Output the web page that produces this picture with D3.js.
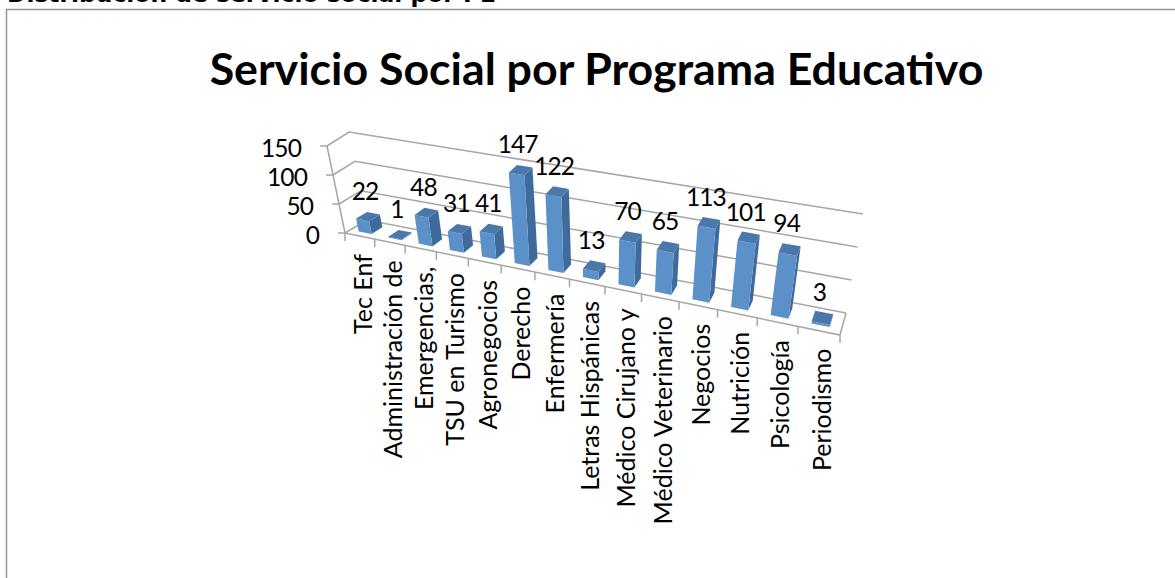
<!DOCTYPE html>
<html><head><meta charset="utf-8">
<script src="https://cdn.jsdelivr.net/npm/d3@7"></script>
<style>html,body{margin:0;padding:0;background:#fff;overflow:hidden}svg{display:block}
text{font-family:Lato,sans-serif;fill:#000}</style></head>
<body><div id="chart"></div>
<script>
const header = "Distribución de servicio social por PE";
const chartTitle = "Servicio Social por Programa Educativo";
const categories = ["Tec Enf","Administración de","Emergencias,","TSU en Turismo","Agronegocios","Derecho","Enfermería","Letras Hispánicas","Médico Cirujano y","Médico Veterinario","Negocios","Nutrición","Psicología","Periodismo"];
const values = [22,1,48,31,41,147,122,13,70,65,113,101,94,3];
const yTicks = [0,50,100,150];

const W = 1175, H = 578;
const svg = d3.select("#chart").append("svg").attr("width",W).attr("height",H);

// frame of the 3D box: [x,y] of its eight corners
const box = {
  floor:{fl:[345,233],fr:[840,335],bl:[367,220],br:[846,313]},
  top:{fl:[327,146],fr:[858,232],bl:[349,132],br:[863,214]}
};
const warpA = 0.83;
const warp = u => warpA*u/(1+(warpA-1)*u);
const lerp = (p,q,t)=>[p[0]+(q[0]-p[0])*t,p[1]+(q[1]-p[1])*t];
function proj(u,d,h){
  const w = warp(u);
  const plane = c => lerp(lerp(c.fl,c.fr,w),lerp(c.bl,c.br,w),d);
  return lerp(plane(box.floor),plane(box.top),h);
}
const xBand = d3.scaleBand().domain(categories).range([0,1]).paddingInner(0.56).paddingOuter(0.28);
const xEdge = d3.scaleLinear().domain([0,categories.length]).range([0,1]);
const yS = d3.scaleLinear().domain([0,150]).range([0,1]);
const depth = {front:0.25,back:0.75};
const poly = d3.line();
const gridCol = "#a6a6a6";

// page frame
svg.append("path").attr("d","M6.5,578V9.5H1175").attr("fill","none").attr("stroke","#969696").attr("stroke-width",1.5);
svg.append("text").attr("x",7).attr("y",2).attr("font-size",23.4).attr("font-weight",700)
  .style("font-family","'DejaVu Sans',sans-serif").text(header);
svg.append("text").attr("x",596.5).attr("y",85).attr("text-anchor","middle").attr("font-size",44.7).attr("font-weight",700).text(chartTitle);

// grid
const g = svg.append("g").attr("fill","none").attr("stroke",gridCol).attr("stroke-width",1.5);
yTicks.forEach(t=>{
  const h=yS(t);
  g.append("path").attr("d",poly([proj(0,0,h),proj(0,1,h),proj(1,1,h)]));
  const a=proj(0,0,h);
  g.append("path").attr("d",poly([[a[0]-7,a[1]],a]));
});
g.append("path").attr("d",poly([proj(0,0,0),proj(0,0,1)]));
g.append("path").attr("d",poly([proj(0,0,0),proj(1,0,0),proj(1,1,0)]));
d3.range(categories.length+1).forEach(i=>{
  const a=proj(xEdge(i),0,0);
  g.append("path").attr("d",poly([a,[a[0],a[1]+8]]));
});

// y labels
svg.append("g").selectAll("text").data(yTicks).join("text")
  .attr("text-anchor","end").attr("font-size",24.5).attr("letter-spacing",-0.9)
  .attr("x",d=>proj(0,0,yS(d))[0]-26).attr("y",d=>proj(0,0,yS(d))[1]+11).text(d=>d);

// bars
const bars = svg.append("g").selectAll("g").data(categories).join("g");
bars.each(function(c,i){
  const u0=xBand(c),u1=u0+xBand.bandwidth(),h=yS(values[i]);
  const f=depth.front,b=depth.back;
  const s=d3.select(this);
  s.append("path").attr("fill","#3f6b9c").attr("d",poly([proj(u1,f,0),proj(u1,b,0),proj(u1,b,h),proj(u1,f,h)])+"Z");
  s.append("path").attr("fill","#5b90c8").attr("d",poly([proj(u0,f,0),proj(u1,f,0),proj(u1,f,h),proj(u0,f,h)])+"Z");
  s.append("path").attr("fill","#4a78ab").attr("d",poly([proj(u0,f,h),proj(u1,f,h),proj(u1,b,h),proj(u0,b,h)])+"Z");
});

// value labels
svg.append("g").selectAll("text").data(values).join("text")
  .attr("text-anchor","middle").attr("font-size",24.5).attr("letter-spacing",-0.9)
  .attr("x",(d,i)=>proj(xBand(categories[i])+xBand.bandwidth()/2,0.5,yS(d))[0]-3)
  .attr("y",(d,i)=>proj(xBand(categories[i])+xBand.bandwidth()/2,0.5,yS(d))[1]-17).text(d=>d);

// category labels
svg.append("g").selectAll("text").data(categories).join("text")
  .attr("text-anchor","end").attr("font-size",25)
  .attr("transform",(c,i)=>{
    const p=proj(xEdge(i+0.5),0,0);
    return `translate(${p[0]+12},${p[1]+18}) rotate(-90)`;
  }).text(c=>c);
</script></body></html>
